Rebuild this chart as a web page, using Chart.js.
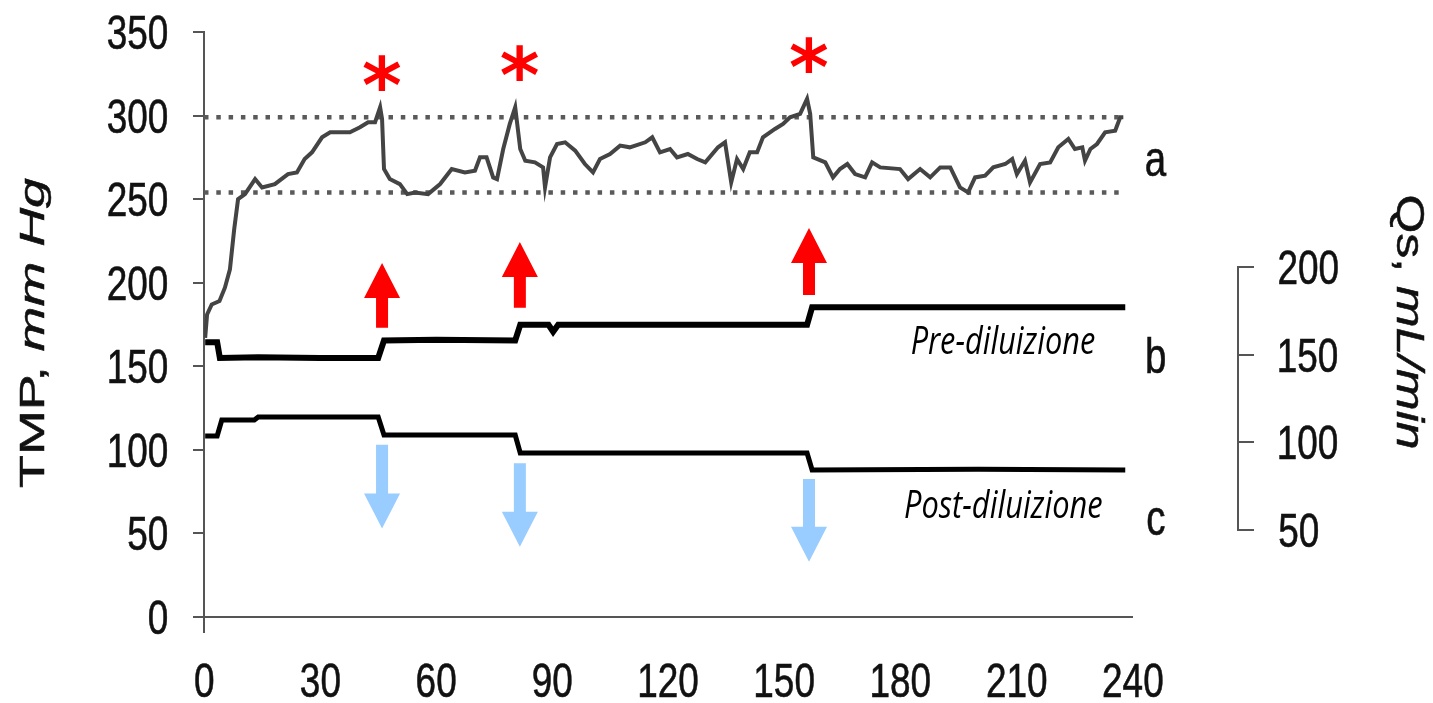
<!DOCTYPE html>
<html>
<head>
<meta charset="utf-8">
<script src="https://cdn.jsdelivr.net/npm/chart.js@4.4.1/dist/chart.umd.min.js"></script>
<style>
  html, body { margin: 0; padding: 0; background: #fff; }
  #wrap { position: relative; width: 1433px; height: 703px; overflow: hidden; }
  #main { position: absolute; left: 0; top: 0; }
  #qsAxis { position: absolute; left: 1236px; top: 227px; }
</style>
</head>
<body>
<div id="wrap">
  <canvas id="main" width="1433" height="703"></canvas>
  <canvas id="qsAxis" width="172" height="343"></canvas>
</div>
<script>
// tick labels
const timeTicks = [0, 30, 60, 90, 120, 150, 180, 210, 240];
const tmpTicks = [0, 50, 100, 150, 200, 250, 300, 350];
const qsTicks = [50, 100, 150, 200];

// curve a: TMP (mm Hg) vs time (min)
const tmpTime = [
  0.3, 0.8, 2, 4, 5.4, 6.7, 7.8, 8.8, 10.6, 13.2,
  15, 18.3, 21.7, 24, 26, 27.9, 30.5, 32.6, 36.4, 37.7,
  40.3, 42.4, 44.2, 45.5, 46, 46.5, 48, 50.6, 52.5, 54.5,
  57.9, 61, 64, 67.4, 70, 71.3, 73, 74.7, 75.7, 77.3,
  79, 80.4, 81.7, 83, 85.5, 87.6, 88.1, 89.4, 91.2, 93.3,
  95.9, 98.4, 100.5, 102.3, 104.9, 107.5, 110, 114, 115.8, 117.8,
  120.4, 122.2, 125, 127.4, 129.5, 132.8, 134.6, 136.2, 137.7, 139.3,
  141, 142.9, 144.4, 147.5, 149.6, 151.4, 154, 155.8, 156.6, 157.4,
  160.5, 162.5, 164.3, 166.2, 168.2, 170.8, 172.6, 174.7, 179.8, 181.9,
  185, 187.6, 190.2, 192.8, 195.3, 197.4, 199.2, 201.8, 203.9, 207,
  208.8, 210, 212.1, 213.4, 216, 218.6, 220.7, 223.3, 225, 226.9,
  227.6, 229, 230.7, 232.8, 235.4, 236.7, 237.5
];
const tmpValue = [
  167, 181, 187, 189, 197, 208, 232, 250, 253, 262,
  257, 259, 265, 266, 274, 278, 287, 290, 290, 290,
  293, 296, 296, 305, 298, 268, 262, 259, 253, 254,
  253, 259, 268, 266, 267, 275, 275, 263, 262, 280,
  295, 305, 280, 273, 272, 269, 257, 275, 283, 284,
  279, 271, 266, 274, 277, 282, 281, 284, 287, 278,
  280, 275, 277, 274, 272, 281, 284, 260, 274, 268,
  278, 278, 287, 292, 295, 299, 301, 310, 301, 275,
  272, 263, 268, 271, 265, 263, 272, 269, 268, 262,
  268, 263, 269, 269, 257, 254, 263, 264, 269, 271,
  274, 265, 273, 260, 271, 272, 281, 286, 280, 281,
  273, 280, 283, 290, 291, 299, 299
];

// curve b: Qs pre-dilution (mL/min)
const preTime = [0.3, 3.4, 4.1, 14, 30, 45, 46.5, 60, 80.4, 81.7, 89, 90.2, 91.5, 120, 155.8, 157.1, 200, 238];
const preQs = [157, 157, 148, 148.5, 148, 148, 158, 158.5, 158, 167, 167, 163, 167, 167, 167, 177, 177, 177];

// curve c: Qs post-dilution (mL/min)
const postTime = [0.3, 3.4, 4.6, 13, 14, 45, 46.5, 80.4, 81.7, 155.8, 157.1, 200, 238];
const postQs = [103.4, 103.4, 112.6, 112.6, 114.3, 114.3, 104, 104, 93.7, 93.7, 84, 84.5, 84];

// dotted TMP band
const bandTmp = [299, 254];
const bandEnd = 237.5;

// markers at the Qs changes
const changeTime = [46, 81.6, 156.3];
const starTmp = [325.5, 331.5, 336];
const upTailTmp = [173, 185, 192.7];
const upTipTmp = [211.8, 224.4, 232.8];
const downTailTmp = [103, 92, 82.6];
const downTipTmp = [53, 42, 33];

// text labels
const curveNames = ['a', 'b', 'c'];
const curveNameTime = 246;
const curveNameTmp = [272, 157, 57];
const modeNames = ['Pre-diluizione', 'Post-diluizione'];
const modeNameTime = [206.4, 206.5];
const modeNameTmp = [166, 68];

const labelFont = '48px "Liberation Sans", Arial, sans-serif';
const labelSqueeze = 0.77;
const labelStroke = 0.6;
const ink = '#111';
const axisGrey = '#555';

function pts(xs, ys) {
  return xs.map((t, i) => ({ x: t, y: ys[i] }));
}

// text placed by its glyph box: align = left | center | right, vertically centred on cy
function boxText(ctx, str, cx, cy, font, color, align, sx, targetW, stroke) {
  ctx.save();
  ctx.font = font;
  ctx.fillStyle = color;
  ctx.strokeStyle = color;
  ctx.textAlign = 'left';
  ctx.textBaseline = 'alphabetic';
  const m = ctx.measureText(str);
  const w = m.actualBoundingBoxLeft + m.actualBoundingBoxRight;
  const s = targetW ? targetW / w : (sx || 1);
  ctx.translate(cx, cy);
  ctx.scale(s, 1);
  let ox = (m.actualBoundingBoxLeft - m.actualBoundingBoxRight) / 2;
  if (align === 'right') ox = -m.actualBoundingBoxRight;
  if (align === 'left') ox = m.actualBoundingBoxLeft;
  const oy = (m.actualBoundingBoxAscent - m.actualBoundingBoxDescent) / 2;
  ctx.fillText(str, ox, oy);
  if (stroke) {
    ctx.lineWidth = stroke;
    ctx.strokeText(str, ox, oy);
  }
  ctx.restore();
}

function rotatedTitle(ctx, parts, cx, cy, angle, length, cap) {
  const fs = cap / 0.716;
  const fonts = parts.map(p => (p.italic ? 'italic ' : '') + fs + 'px "Liberation Sans", Arial, sans-serif');
  let total = 0;
  const widths = parts.map((p, i) => {
    ctx.font = fonts[i];
    const w = ctx.measureText(p.text).width;
    total += w;
    return w;
  });
  ctx.save();
  ctx.translate(cx, cy);
  ctx.rotate(angle);
  ctx.scale(length / total, 1);
  ctx.fillStyle = ink;
  ctx.strokeStyle = ink;
  ctx.lineWidth = 0.5;
  ctx.textBaseline = 'alphabetic';
  ctx.textAlign = 'left';
  let pos = -total / 2;
  parts.forEach((p, i) => {
    ctx.font = fonts[i];
    ctx.fillText(p.text, pos, cap / 2);
    ctx.strokeText(p.text, pos, cap / 2);
    pos += widths[i];
  });
  ctx.restore();
}

function arrow(ctx, px, yTail, yTip, color) {
  const dir = yTip < yTail ? -1 : 1;
  const headLen = 35, headHalf = 18, shaftHalf = 6;
  const yBase = yTip - dir * headLen;
  ctx.beginPath();
  ctx.moveTo(px - shaftHalf, yTail);
  ctx.lineTo(px - shaftHalf, yBase);
  ctx.lineTo(px - headHalf, yBase);
  ctx.lineTo(px, yTip);
  ctx.lineTo(px + headHalf, yBase);
  ctx.lineTo(px + shaftHalf, yBase);
  ctx.lineTo(px + shaftHalf, yTail);
  ctx.closePath();
  ctx.fillStyle = color;
  ctx.fill();
}

const annotations = {
  id: 'annotations',
  afterDraw(chart) {
    const { ctx, chartArea } = chart;
    const x = chart.scales.x, y = chart.scales.y;

    // tick labels (condensed, like the source figure)
    y.ticks.forEach(t => {
      boxText(ctx, String(t.value), chartArea.left - 37, y.getPixelForValue(t.value), labelFont, ink, 'right', labelSqueeze, 0, labelStroke);
    });
    x.ticks.forEach(t => {
      boxText(ctx, String(t.value), x.getPixelForValue(t.value), chartArea.bottom + 48, labelFont, ink, 'center', labelSqueeze, 0, labelStroke);
    });

    // arrows and asterisks
    changeTime.forEach((t, i) => {
      const px = x.getPixelForValue(t);
      arrow(ctx, px, y.getPixelForValue(upTailTmp[i]), y.getPixelForValue(upTipTmp[i]), '#ff0000');
      arrow(ctx, px, y.getPixelForValue(downTailTmp[i]), y.getPixelForValue(downTipTmp[i]), '#99ccff');
      boxText(ctx, '*', px, y.getPixelForValue(starTmp[i]), 'bold 76px "DejaVu Sans", sans-serif', '#ff0000', 'center');
    });

    // a / b / c
    curveNames.forEach((n, i) => {
      boxText(ctx, n, x.getPixelForValue(curveNameTime), y.getPixelForValue(curveNameTmp[i]),
        '50px "Liberation Sans", Arial, sans-serif', ink, 'center', labelSqueeze, 0, labelStroke);
    });

    // dilution mode labels
    const modeW = [183, 197];
    modeNames.forEach((n, i) => {
      boxText(ctx, n, x.getPixelForValue(modeNameTime[i]), y.getPixelForValue(modeNameTmp[i]),
        'italic 38px "Open Sans", "Noto Sans", sans-serif', '#000', 'center', 1, modeW[i]);
    });

    // axis titles
    rotatedTitle(ctx, [{ text: 'TMP, ' }, { text: 'mm Hg', italic: true }], 31, 333, -Math.PI / 2, 310, 25);
    rotatedTitle(ctx, [{ text: 'Qs, ' }, { text: 'mL/min', italic: true }], 1411, 322, Math.PI / 2, 255, 28);
  }
};

new Chart(document.getElementById('main'), {
  type: 'line',
  data: {
    datasets: [
      {
        label: 'TMP',
        data: pts(tmpTime, tmpValue),
        borderColor: '#444',
        borderWidth: 4,
        pointRadius: 0,
        tension: 0,
        yAxisID: 'y'
      },
      {
        label: 'Pre-diluizione',
        data: pts(preTime, preQs),
        borderColor: '#000',
        borderWidth: 6,
        pointRadius: 0,
        tension: 0,
        yAxisID: 'qs'
      },
      {
        label: 'Post-diluizione',
        data: pts(postTime, postQs),
        borderColor: '#000',
        borderWidth: 5,
        pointRadius: 0,
        tension: 0,
        yAxisID: 'qs'
      },
      {
        label: 'upper',
        data: pts([0, bandEnd], [bandTmp[0], bandTmp[0]]),
        borderColor: '#5a5a5a',
        borderWidth: 4.5,
        borderDash: [4.5, 7.8],
        pointRadius: 0,
        yAxisID: 'y'
      },
      {
        label: 'lower',
        data: pts([0, bandEnd], [bandTmp[1], bandTmp[1]]),
        borderColor: '#5a5a5a',
        borderWidth: 4.5,
        borderDash: [4.5, 7.8],
        pointRadius: 0,
        yAxisID: 'y'
      }
    ]
  },
  options: {
    responsive: false,
    animation: false,
    layout: { padding: { left: 0, right: 300, top: 32, bottom: 0 } },
    plugins: { legend: { display: false }, tooltip: { enabled: false } },
    scales: {
      x: {
        type: 'linear',
        min: 0,
        max: 240,
        afterBuildTicks: s => { s.ticks = timeTicks.map(v => ({ value: v })); },
        afterFit: s => { s.height = 71; },
        grid: { display: false, drawTicks: false },
        border: { display: false },
        ticks: { display: false }
      },
      y: {
        type: 'linear',
        min: -9,
        max: 350,
        afterBuildTicks: s => { s.ticks = tmpTicks.map(v => ({ value: v })); },
        afterFit: s => { s.width = 204; },
        grid: {
          color: c => (c.tick && c.tick.value === 0 ? axisGrey : 'rgba(0,0,0,0)'),
          tickColor: axisGrey,
          tickLength: 11,
          lineWidth: 2,
          tickWidth: 2
        },
        border: { color: axisGrey, width: 2 },
        ticks: { display: false }
      },
      qs: {
        type: 'linear',
        display: false,
        min: -8.57,
        max: 334.3
      }
    }
  },
  plugins: [annotations]
});

// separate short Qs axis on the right
const qsLabels = {
  id: 'qsLabels',
  afterDraw(chart) {
    const { ctx, chartArea } = chart;
    const q = chart.scales.y;
    q.ticks.forEach(t => {
      boxText(ctx, String(t.value), chartArea.right + 41, q.getPixelForValue(t.value), labelFont, ink, 'left', labelSqueeze, 0, labelStroke);
    });
  }
};

new Chart(document.getElementById('qsAxis'), {
  type: 'line',
  data: { datasets: [] },
  options: {
    responsive: false,
    animation: false,
    layout: { padding: { left: 0, right: 0, top: 40, bottom: 40 } },
    plugins: { legend: { display: false }, tooltip: { enabled: false } },
    scales: {
      x: { type: 'linear', display: false },
      y: {
        type: 'linear',
        position: 'right',
        min: 50,
        max: 200,
        afterBuildTicks: s => { s.ticks = qsTicks.map(v => ({ value: v })); },
        afterFit: s => { s.width = 170; },
        grid: { drawOnChartArea: false, color: axisGrey, tickLength: 16, lineWidth: 2 },
        border: { color: axisGrey, width: 2 },
        ticks: { display: false }
      }
    }
  },
  plugins: [qsLabels]
});
</script>
</body>
</html>
